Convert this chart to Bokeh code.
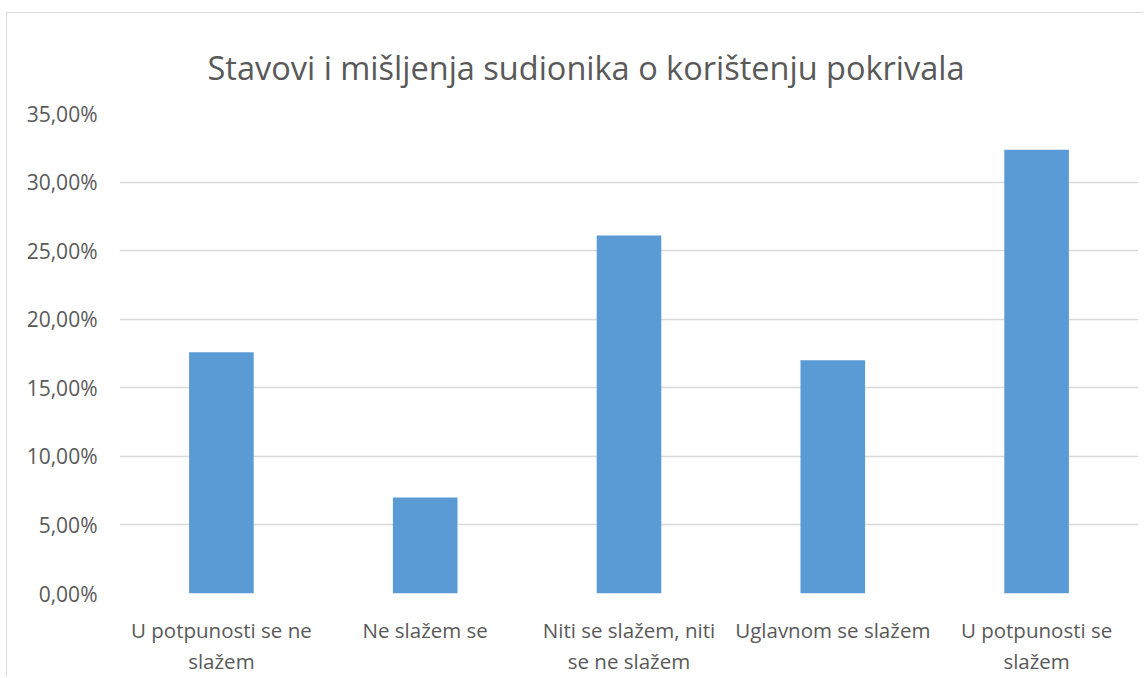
from bokeh.plotting import figure
from bokeh.models import FixedTicker, Range1d, CategoricalAxis, Title, FactorRange
from bokeh.embed import file_html
from bokeh.resources import INLINE

categories = ["U potpunosti se ne slažem", "Ne slažem se", "Niti se slažem, niti se ne slažem",
              "Uglavnom se slažem", "U potpunosti se slažem"]
label_line1 = ["U potpunosti se ne", "Ne slažem se", "Niti se slažem, niti",
               "Uglavnom se slažem", "U potpunosti se"]
label_line2 = ["slažem", "", "se ne slažem", "", "slažem"]
percent_values = [17.6, 7.0, 26.1, 17.0, 32.35]
y_ticks = [0, 5, 10, 15, 20, 25, 30, 35]
y_tick_labels = ["0,00%", "5,00%", "10,00%", "15,00%", "20,00%", "25,00%", "30,00%", "35,00%"]
title_text = "Stavovi i mišljenja sudionika o korištenju pokrivala"

FONT = "Open Sans"
TXT = "#595959"
LBL = "20.5px"


def unique_factors(labels):
    # make repeated labels distinct with invisible zero-width spaces
    seen, out = {}, []
    for s in labels:
        k = seen.get(s, 0)
        seen[s] = k + 1
        out.append(s + "\u200b" * (k + (1 if s == "" else 0)))
    return out


line2_factors = unique_factors(label_line2)

# canvas placed at page (7, 13) via margin; frame at page x 119..1131, y 113..594
p = figure(x_range=FactorRange(factors=categories, range_padding=0), y_range=Range1d(0, 35),
           width=1137, height=664, output_backend="svg", toolbar_location=None,
           min_border_left=112, min_border_right=6, min_border_top=100, min_border_bottom=83)
p.margin = (12, 0, 0, 6)
p.styles = {"border-top": "1px solid #d9d9d9", "border-left": "1px solid #d9d9d9"}
p.extra_x_ranges = {
    "line1": FactorRange(factors=label_line1, range_padding=0),
    "line2": FactorRange(factors=line2_factors, range_padding=0),
}

p.vbar(x=categories, top=percent_values, width=0.317, color="#5b9bd5", line_color=None)

p.outline_line_color = None
p.background_fill_color = "white"
p.border_fill_color = "white"

p.xgrid.grid_line_color = None
p.ygrid.grid_line_color = "#d9d9d9"
p.ygrid.grid_line_width = 1.5
p.ygrid.ticker = FixedTicker(ticks=y_ticks)

p.yaxis.ticker = FixedTicker(ticks=y_ticks)
p.yaxis.major_label_overrides = {t: l for t, l in zip(y_ticks, y_tick_labels)}
p.yaxis.axis_line_color = None
p.yaxis.major_tick_line_color = None
p.yaxis.major_tick_out = 0
p.yaxis.minor_tick_line_color = None
p.yaxis.major_label_text_font = FONT
p.yaxis.major_label_text_font_size = "21px"
p.yaxis.major_label_text_color = TXT
p.yaxis.major_label_standoff = 22

p.xaxis.visible = False

common = dict(axis_line_color=None, major_tick_line_color=None, major_tick_out=0,
              minor_tick_line_color=None, major_label_text_font=FONT,
              major_label_text_font_size=LBL, major_label_text_color=TXT)
ax1 = CategoricalAxis(x_range_name="line1", major_label_standoff=22, **common)
ax2 = CategoricalAxis(x_range_name="line2", major_label_standoff=0, **common)
p.add_layout(ax1, "below")
p.add_layout(ax2, "below")

title = Title(text=title_text, text_font=FONT, text_font_size="32.5px", text_color=TXT,
              text_font_style="normal", align="left", offset=88, standoff=47)
p.add_layout(title, "above")

open("out.html", "w").write(file_html(p, INLINE))
